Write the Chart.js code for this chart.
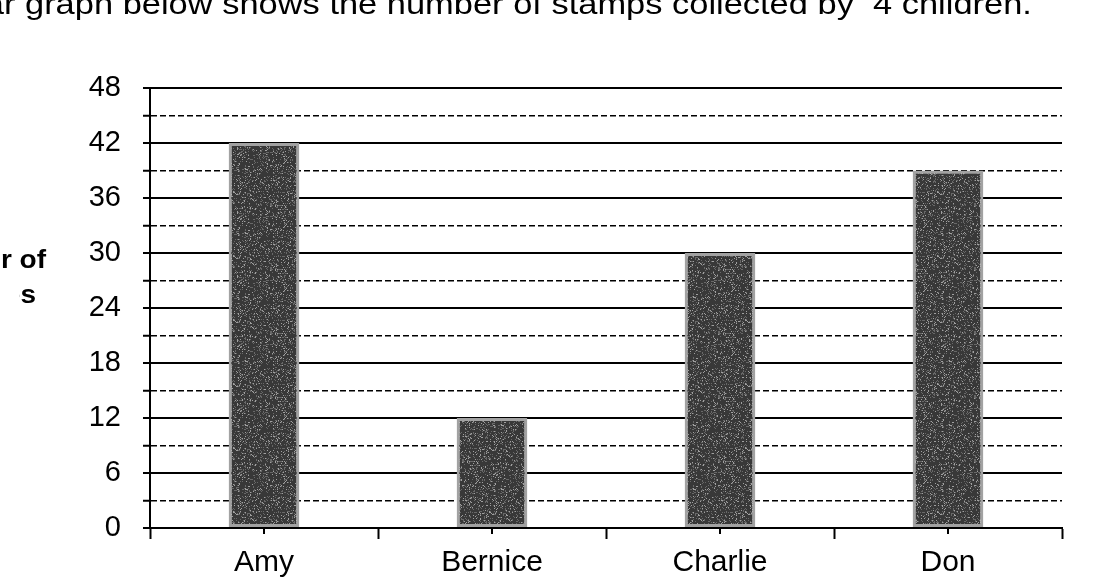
<!DOCTYPE html>
<html>
<head>
<meta charset="utf-8">
<script src="https://cdn.jsdelivr.net/npm/chart.js@4/dist/chart.umd.min.js"></script>
<style>
  html, body { margin: 0; padding: 0; background: #fff; }
  #wrap { width: 1109px; height: 582px; position: relative; }
</style>
</head>
<body>
<div id="wrap"><canvas id="stampChart"></canvas></div>
<script>
const categories = ['Amy', 'Bernice', 'Charlie', 'Don'];
const stamps = [42, 12, 30, 39];
const yTickLabels = [0, 6, 12, 18, 24, 30, 36, 42, 48];
const yMinorStep = 3;
const captionText = 'The bar graph below shows the number of stamps collected by  4 children.';
const yTitleLines = ['Number of', 'stamps'];

const FONT = '"Liberation Sans", Arial, sans-serif';
const STRETCH = 1.12; // the scan is a bit wider than tall

// speckled grey fill, like the scanned bars
function barPattern() {
  const n = 64;
  const c = document.createElement('canvas');
  c.width = n; c.height = n;
  const g = c.getContext('2d');
  g.fillStyle = '#383838';
  g.fillRect(0, 0, n, n);
  for (let y = 0; y < n; y++) {
    for (let x = 0; x < n; x++) {
      let h = Math.imul(x, 374761393) + Math.imul(y, 668265263);
      h = Math.imul(h ^ (h >>> 13), 1274126177);
      h = ((h ^ (h >>> 16)) >>> 0) % 100;
      if (h < 22) {
        g.fillStyle = h < 7 ? '#a0a0a0' : '#686868';
        g.fillRect(x, y, 1, 1);
      }
    }
  }
  return g.createPattern(c, 'repeat');
}

const textPlugin = {
  id: 'texts',
  afterDatasetsDraw(chart) {
    // small tick marks under each bar centre
    const ctx = chart.ctx;
    const xs = chart.scales.x;
    ctx.save();
    ctx.strokeStyle = '#000';
    ctx.lineWidth = 2;
    categories.forEach((c, i) => {
      const px = xs.getPixelForValue(i);
      ctx.beginPath();
      ctx.moveTo(px, xs.top);
      ctx.lineTo(px, xs.top + 6);
      ctx.stroke();
    });
    ctx.restore();
  },
  afterDraw(chart) {
    const ctx = chart.ctx;
    ctx.save();
    ctx.fillStyle = '#000';
    // cut-off caption at the top of the scan
    ctx.font = '30px ' + FONT;
    ctx.textBaseline = 'alphabetic';
    const wa = ctx.measureText('The bar ').width;
    const wb = ctx.measureText('The bar graph below shows the number of stamps collected by  ').width;
    const sx = (873 - 25) / (wb - wa);
    ctx.save();
    ctx.translate(25 - sx * wa, 14);
    ctx.scale(sx, 1);
    ctx.fillText(captionText, 0, 0);
    ctx.restore();
    // y title, mostly off the left edge of the scan
    ctx.font = 'bold 25px ' + FONT;
    ctx.textAlign = 'right';
    ctx.save();
    ctx.translate(46, 268);
    ctx.scale(STRETCH, 1);
    ctx.fillText(yTitleLines[0], 0, 0);
    ctx.restore();
    ctx.save();
    ctx.beginPath();
    ctx.rect(19, 270, 60, 50);
    ctx.clip();
    ctx.translate(36, 303);
    ctx.scale(STRETCH, 1);
    ctx.fillText(yTitleLines[1], 0, 0);
    ctx.restore();
    ctx.restore();
  }
};

const ctx = document.getElementById('stampChart').getContext('2d');

new Chart(ctx, {
  type: 'bar',
  data: {
    labels: categories,
    datasets: [{
      data: stamps,
      backgroundColor: barPattern(),
      borderColor: '#a2a2a2',
      borderWidth: 3,
      borderSkipped: false,
      barPercentage: 0.31,
      categoryPercentage: 1
    }]
  },
  options: {
    responsive: true,
    maintainAspectRatio: false,
    animation: false,
    layout: { padding: { top: 88, right: 47, left: 0, bottom: 0 } },
    plugins: {
      legend: { display: false },
      tooltip: { enabled: false }
    },
    scales: {
      x: {
        offset: true,
        grid: {
          offset: true,
          drawOnChartArea: false,
          tickLength: 11,
          tickWidth: 2,
          tickColor: '#000'
        },
        border: { color: '#000', width: 2 },
        ticks: {
          color: '#000',
          padding: 6,
          font: { family: FONT, size: 30 }
        },
        afterFit(scale) { scale.height = 54; }
      },
      y: {
        min: 0,
        max: 48,
        ticks: {
          stepSize: yMinorStep,
          autoSkip: false,
          color: '#000',
          padding: 22,
          font: { family: FONT, size: 29 },
          callback: v => yTickLabels.includes(v) ? String(v) : ''
        },
        grid: {
          color: '#000',
          lineWidth: c => (c.tick && c.tick.value % 6 !== 0) ? 1.5 : 2,
          tickLength: 7,
          tickWidth: 2,
          tickColor: '#000'
        },
        border: {
          color: '#000',
          width: 2,
          dash: c => (c.tick && c.tick.value % 6 !== 0) ? [6, 3] : []
        },
        afterFit(scale) { scale.width = 150; }
      }
    }
  },
  plugins: [textPlugin]
});
</script>
</body>
</html>
